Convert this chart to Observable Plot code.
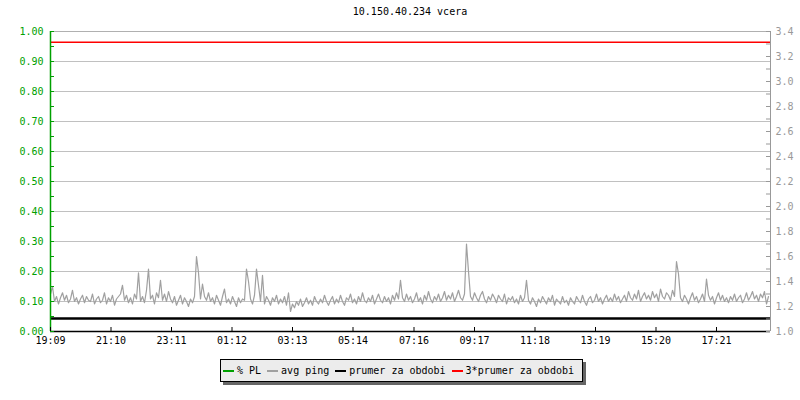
<!DOCTYPE html>
<html>
<head>
<meta charset="utf-8">
<script src="https://cdn.jsdelivr.net/npm/d3@7"></script>
<script src="https://cdn.jsdelivr.net/npm/@observablehq/plot@0.6"></script>
<style>
  body { margin: 0; background: #fff; font-family: "DejaVu Sans Mono", monospace; }
  #wrap { position: relative; width: 800px; height: 400px; }
  #title { position: absolute; left: 50px; width: 720px; top: 6px; text-align: center; font-size: 10px; color: #000; }
  #legend { position: absolute; left: 220px; top: 359px; width: 359px; height: 21px; border: 1px solid #000;
            background: #ececec; box-shadow: 3px 3px 0 #666; font-size: 10px; display: flex; align-items: center; padding-left: 2px; box-sizing: content-box; }
  .sw { display: inline-block; width: 11px; height: 2px; margin-right: 3px; }
  .it { display: inline-flex; align-items: center; margin-right: 6px; white-space: pre; }
</style>
</head>
<body>
<div id="wrap">
  <div id="title">10.150.40.234 vcera</div>
  <div id="chart"></div>
  <div id="legend"></div>
</div>
<script>
const title = "10.150.40.234 vcera";
const timeLabels = ["19:09","21:10","23:11","01:12","03:13","05:14","07:16","09:17","11:18","13:19","15:20","17:21"];
const leftTicks = [0,0.1,0.2,0.3,0.4,0.5,0.6,0.7,0.8,0.9,1.0];
const rightTicks = [1.0,1.2,1.4,1.6,1.8,2.0,2.2,2.4,2.6,2.8,3.0,3.2,3.4];
const seriesNames = ["% PL","avg ping","prumer za obdobi","3*prumer za obdobi"];
const seriesColors = ["#00a000","#a0a0a0","#000000","#ff0000"];
// avg ping in ms (right axis), one value every 4 minutes from 19:09
const avgPing = [
1.30,1.36,1.24,1.28,1.22,1.27,1.31,1.25,1.29,1.23,1.26,1.33,1.24,1.27,1.22,1.26,1.29,1.23,1.28,1.25,
1.24,1.30,1.22,1.26,1.28,1.23,1.25,1.31,1.22,1.27,1.24,1.29,1.21,1.26,1.28,1.30,1.37,1.25,1.29,1.23,
1.27,1.22,1.30,1.26,1.47,1.24,1.28,1.23,1.33,1.50,1.26,1.29,1.22,1.31,1.27,1.41,1.25,1.30,1.24,1.32,
1.26,1.23,1.28,1.21,1.25,1.29,1.22,1.27,1.24,1.20,1.26,1.23,1.28,1.60,1.47,1.26,1.38,1.28,1.25,1.31,
1.24,1.27,1.22,1.29,1.25,1.21,1.28,1.34,1.23,1.26,1.22,1.28,1.24,1.20,1.27,1.23,1.26,1.25,1.50,1.40,
1.26,1.22,1.29,1.50,1.37,1.24,1.45,1.22,1.28,1.25,1.21,1.27,1.24,1.29,1.22,1.26,1.23,1.28,1.21,1.31,
1.16,1.22,1.19,1.24,1.21,1.26,1.20,1.23,1.27,1.22,1.25,1.21,1.28,1.24,1.22,1.26,1.23,1.29,1.24,1.21,
1.25,1.28,1.22,1.26,1.23,1.29,1.24,1.21,1.27,1.25,1.30,1.23,1.26,1.22,1.28,1.24,1.31,1.25,1.23,1.27,
1.24,1.29,1.22,1.26,1.30,1.25,1.23,1.28,1.24,1.27,1.22,1.29,1.25,1.31,1.26,1.41,1.27,1.24,1.30,1.25,
1.28,1.23,1.26,1.31,1.24,1.27,1.22,1.29,1.25,1.32,1.26,1.23,1.28,1.25,1.30,1.24,1.27,1.32,1.25,1.29,
1.26,1.31,1.24,1.28,1.33,1.27,1.25,1.30,1.70,1.48,1.28,1.25,1.31,1.27,1.24,1.29,1.32,1.26,1.23,1.28,
1.25,1.30,1.27,1.23,1.29,1.26,1.24,1.30,1.22,1.27,1.25,1.28,1.23,1.26,1.22,1.29,1.24,1.27,1.41,1.25,
1.22,1.27,1.24,1.20,1.26,1.23,1.28,1.25,1.22,1.27,1.24,1.29,1.21,1.26,1.24,1.22,1.28,1.23,1.25,1.21,
1.27,1.24,1.22,1.28,1.25,1.23,1.29,1.24,1.21,1.26,1.28,1.23,1.25,1.30,1.24,1.27,1.22,1.26,1.29,1.24,
1.27,1.24,1.30,1.25,1.28,1.23,1.26,1.29,1.24,1.32,1.27,1.25,1.30,1.26,1.33,1.24,1.28,1.31,1.26,1.29,
1.25,1.32,1.27,1.30,1.24,1.34,1.28,1.26,1.31,1.29,1.25,1.33,1.28,1.56,1.46,1.27,1.24,1.29,1.26,1.22,
1.27,1.31,1.25,1.28,1.23,1.26,1.30,1.24,1.42,1.29,1.25,1.28,1.22,1.27,1.31,1.25,1.29,1.24,1.27,1.23,
1.28,1.25,1.30,1.24,1.27,1.29,1.23,1.26,1.31,1.25,1.28,1.32,1.26,1.29,1.24,1.30,1.27,1.32,1.22,1.28
];
const meanPing = 1.105;     // prumer za obdobi (ms)
const stepMinutes = 4;

const rightMin = 1.0, rightMax = 3.4;
const toLeft = v => (v - rightMin) / (rightMax - rightMin);
const startMin = 19*60 + 9;
const tickMinutes = timeLabels.map(s => {
  const [h, m] = s.split(":").map(Number);
  let t = h*60 + m - startMin; if (t < 0) t += 1440; return t;
});
const minorLeft = d3.range(0, 1.0001, 0.05);
const minorRight = d3.range(rightMin, rightMax + 0.0001, 0.1).map(toLeft);

const pingData = avgPing.map((v, i) => ({t: i*stepMinutes, v}));

const chart = Plot.plot({
  width: 800, height: 400,
  marginLeft: 50, marginRight: 30, marginTop: 31, marginBottom: 69,
  x: {domain: [0, 1440], axis: null},
  y: {domain: [0, 1], axis: null},
  style: {fontFamily: "DejaVu Sans Mono", fontSize: "10px", background: "white", overflow: "visible"},
  marks: [
    Plot.ruleY(leftTicks.slice(1, -1), {stroke: "#c0c0c0", strokeWidth: 1}),
    Plot.ruleY([1], {stroke: "#b0b0b0", strokeWidth: 1}),
    Plot.line(pingData, {x: "t", y: d => toLeft(d.v), stroke: seriesColors[1], strokeWidth: 1.2, curve: "linear"}),
    Plot.ruleY([toLeft(meanPing)], {stroke: seriesColors[2], strokeWidth: 2.5}),
    Plot.ruleY([toLeft(3*meanPing)], {stroke: seriesColors[3], strokeWidth: 1.5}),
    // axis lines
    Plot.ruleX([1440], {stroke: "#999", strokeWidth: 1}),
    Plot.ruleY([0], {stroke: "#000", strokeWidth: 1.5}),
    Plot.ruleX([0], {stroke: seriesColors[0], strokeWidth: 1.5}),
    // inward ticks
    Plot.ruleY(minorLeft, {x1: 0, x2: 8, stroke: seriesColors[0], strokeWidth: 1}),
    Plot.ruleY(minorRight, {x1: 1432, x2: 1440, stroke: "#999", strokeWidth: 1}),
    Plot.ruleX(tickMinutes, {y1: 0, y2: 4/300, stroke: "#000", strokeWidth: 1}),
    // labels
    Plot.axisY({anchor: "left", ticks: leftTicks, tickSize: 0, tickPadding: 7, label: null,
      tickFormat: d => d.toFixed(2), color: seriesColors[0], fill: seriesColors[0]}),
    Plot.axisY({anchor: "right", ticks: rightTicks.map(toLeft), tickSize: 0, tickPadding: 5, label: null,
      tickFormat: d => (rightMin + d*(rightMax - rightMin)).toFixed(1), color: "#999", fill: "#999"}),
    Plot.axisX({anchor: "bottom", ticks: tickMinutes, tickSize: 0, tickPadding: 5, label: null,
      tickFormat: (d, i) => timeLabels[tickMinutes.indexOf(d)], color: "#000", fill: "#000"})
  ]
});
document.getElementById("chart").appendChild(chart);
document.getElementById("title").textContent = title;

const legend = document.getElementById("legend");
seriesNames.forEach((n, i) => {
  const it = document.createElement("span"); it.className = "it";
  const sw = document.createElement("span"); sw.className = "sw"; sw.style.background = seriesColors[i];
  const tx = document.createElement("span"); tx.textContent = n;
  it.appendChild(sw); it.appendChild(tx); legend.appendChild(it);
});
</script>
</body>
</html>
